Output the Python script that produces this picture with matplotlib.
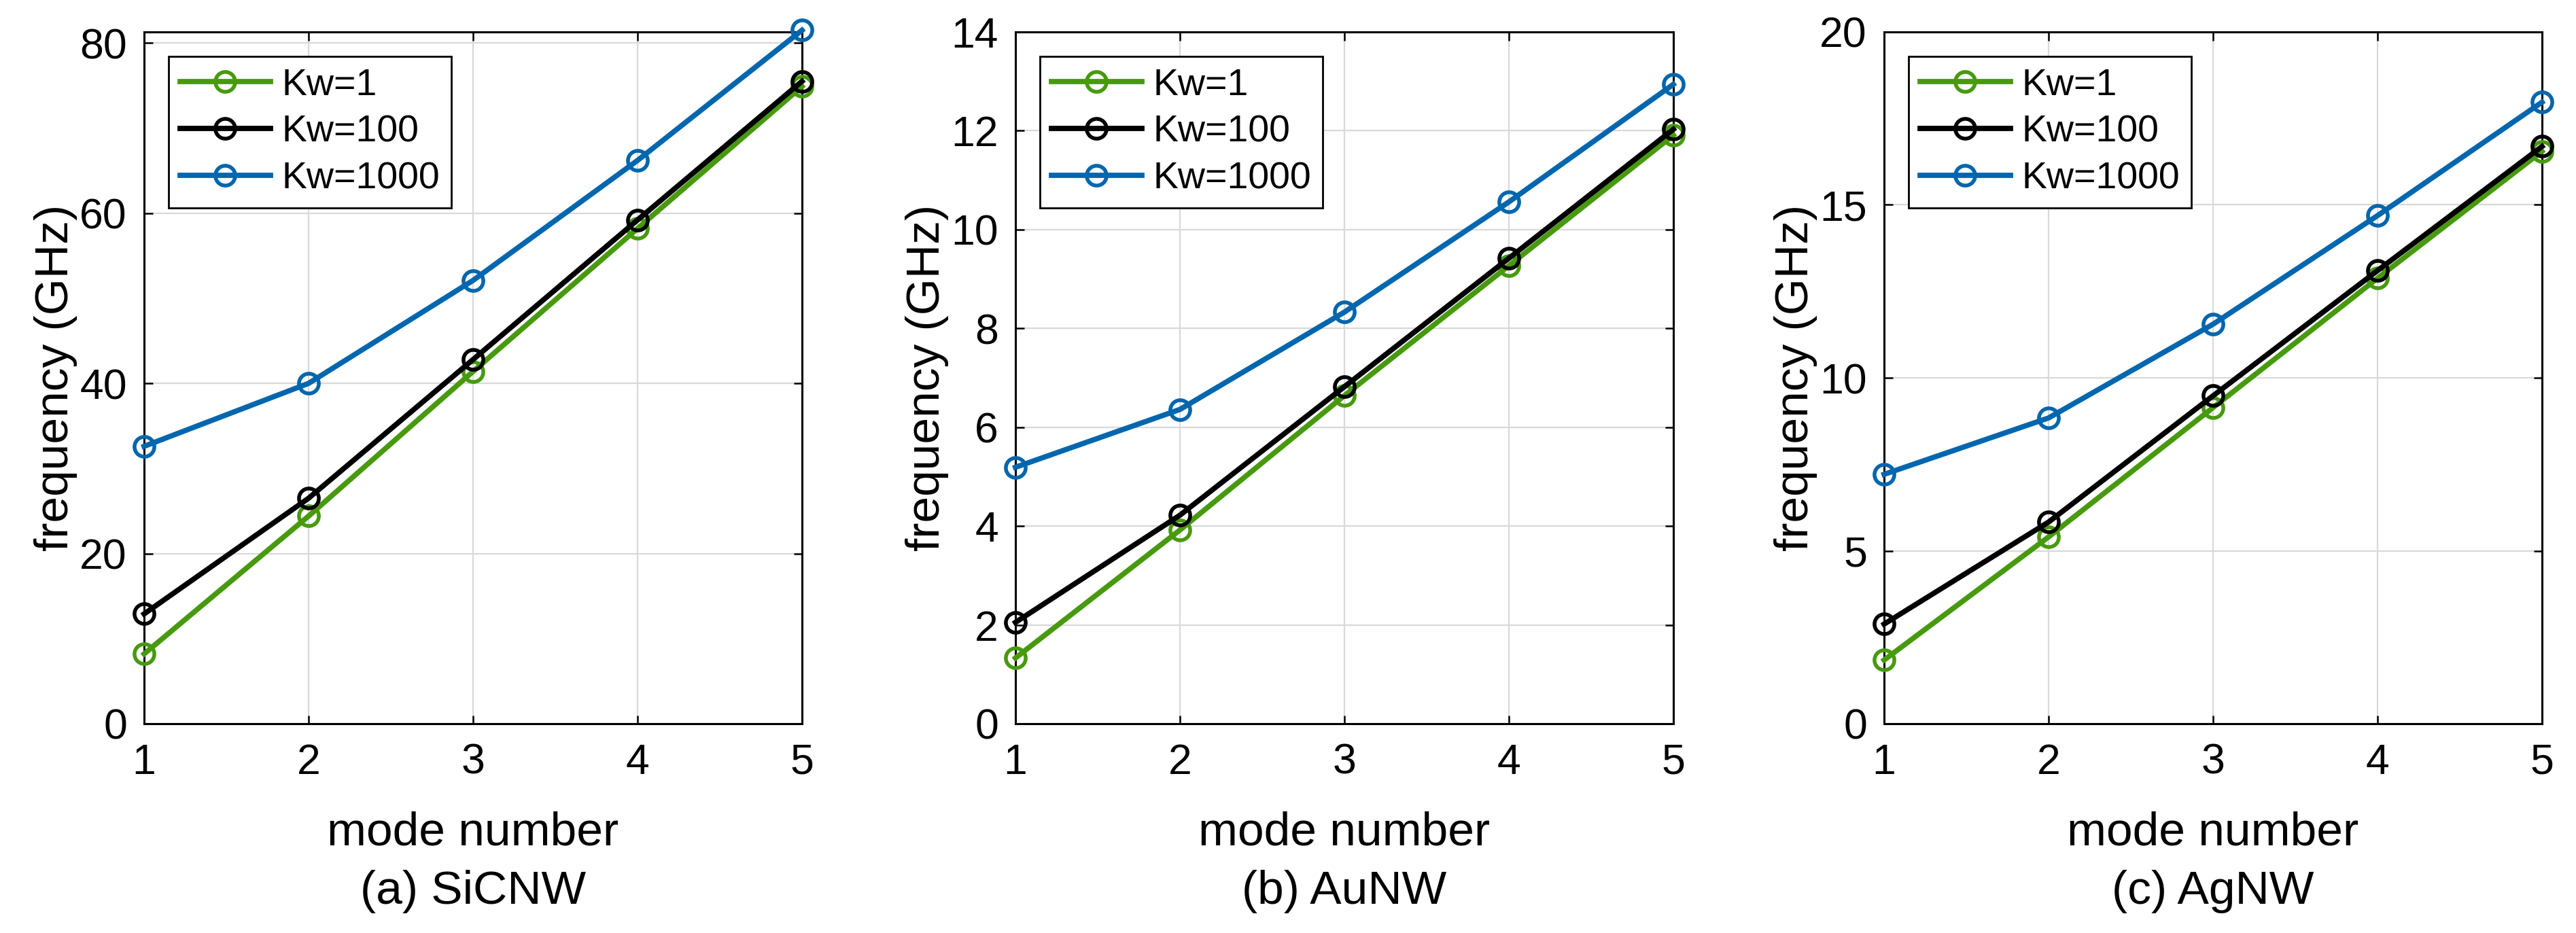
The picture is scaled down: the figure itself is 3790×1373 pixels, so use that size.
import matplotlib
matplotlib.use('Agg')
import matplotlib.pyplot as plt

plt.rcParams['font.family'] = ['Liberation Sans', 'DejaVu Sans']

modes = [1, 2, 3, 4, 5]
series_labels = ['Kw=1', 'Kw=100', 'Kw=1000']
series_colors = ['#479a0e', '#000000', '#0066ae']
captions = ['(a) SiCNW', '(b) AuNW', '(c) AgNW']

# frequency (GHz) per mode, one list per Kw value
sic_kw1 = [8.2, 24.4, 41.4, 58.2, 74.9]
sic_kw100 = [12.9, 26.5, 42.8, 59.2, 75.5]
sic_kw1000 = [32.6, 40.0, 52.1, 66.2, 81.5]

au_kw1 = [1.33, 3.92, 6.64, 9.27, 11.91]
au_kw100 = [2.05, 4.22, 6.82, 9.42, 12.03]
au_kw1000 = [5.19, 6.36, 8.33, 10.56, 12.94]

ag_kw1 = [1.84, 5.40, 9.14, 12.88, 16.55]
ag_kw100 = [2.88, 5.83, 9.48, 13.10, 16.69]
ag_kw1000 = [7.21, 8.84, 11.55, 14.69, 17.97]

panels = [
    ([sic_kw1, sic_kw100, sic_kw1000], (0, 81.3), [0, 20, 40, 60, 80]),
    ([au_kw1, au_kw100, au_kw1000], (0, 14), [0, 2, 4, 6, 8, 10, 12, 14]),
    ([ag_kw1, ag_kw100, ag_kw1000], (0, 20), [0, 5, 10, 15, 20]),
]

W, H = 3790, 1373
fig = plt.figure(figsize=(W / 100, H / 100), dpi=100)

lefts = [212, 1494, 2772]
ax_w = 968
ax_top, ax_bot = 47, 1065

for i, (data, ylim, yticks) in enumerate(panels):
    ax = fig.add_axes([lefts[i] / W, (H - ax_bot) / H, ax_w / W, (ax_bot - ax_top) / H])
    for vals, lab, col in zip(data, series_labels, series_colors):
        ax.plot(modes, vals, '-o', color=col, lw=5.6, ms=21, mfc='none', mew=4,
                label=lab, clip_on=False, zorder=3)

    ax.set_xlim(1, 5)
    ax.set_ylim(*ylim)
    ax.set_xticks(modes)
    ax.set_yticks(yticks)
    ax.grid(True, color='#d9d9d9', lw=1.6, zorder=0)
    ax.set_axisbelow(True)
    ax.tick_params(direction='in', length=9, width=1.8, labelsize=45,
                   top=True, right=True, pad=18)
    ax.tick_params(axis='x', pad=20)
    for s in ax.spines.values():
        s.set_linewidth(2.2)

    ax.set_xlabel('mode number', fontsize=50)
    ax.xaxis.label.set_va('baseline')
    ax.xaxis.set_label_coords(0.5, -178 / (ax_bot - ax_top))
    ax.set_ylabel('frequency (GHz)', fontsize=50)
    ax.yaxis.label.set_rotation_mode('anchor')
    ax.yaxis.label.set_va('baseline')
    ax.yaxis.label.set_ha('center')
    ax.yaxis.set_label_coords(-112 / ax_w, 0.5)
    ax.text(0.5, -265 / (ax_bot - ax_top), captions[i], transform=ax.transAxes,
            ha='center', va='baseline', fontsize=50)

    leg = ax.legend(loc='upper left', fontsize=40, handlelength=2.4,
                    handletextpad=0.3, labelspacing=0.3, borderpad=0.3,
                    borderaxespad=0.65, fancybox=False, framealpha=1,
                    edgecolor='black')
    leg.get_frame().set_linewidth(2.0)

fig.savefig('out.png', dpi=100)
